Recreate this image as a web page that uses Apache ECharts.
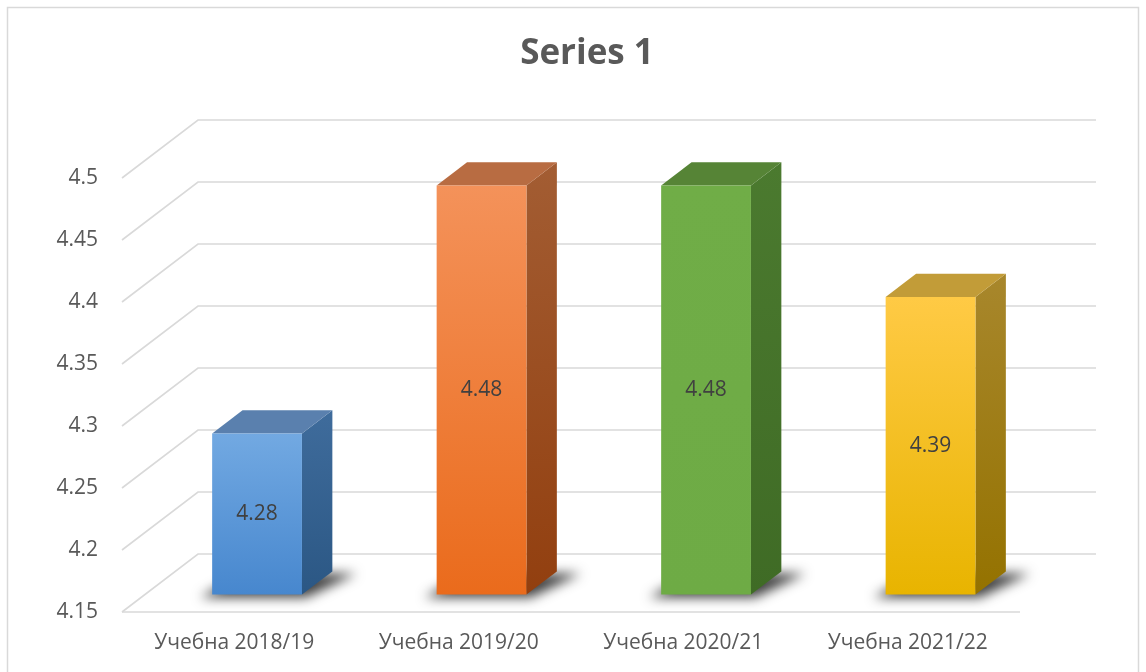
<!DOCTYPE html>
<html>
<head>
<meta charset="utf-8">
<script src="https://cdn.jsdelivr.net/npm/echarts@6/dist/echarts.min.js"></script>
<style>
  html, body { margin: 0; padding: 0; background: #fff; }
  #chart { width: 1146px; height: 672px; }
</style>
</head>
<body>
<div id="chart"></div>
<script>
const categories = ["Учебна 2018/19", "Учебна 2019/20", "Учебна 2020/21", "Учебна 2021/22"];
const values = [4.28, 4.48, 4.48, 4.39];
const yTicks = [4.15, 4.2, 4.25, 4.3, 4.35, 4.4, 4.45, 4.5];
const Y_MIN = 4.15;
const Y_MAX = 4.5;

// 3D projection: full floor depth in pixels, bar front/back depth fractions
const DX = 76, DY = -58;
const BAR_FRONT = 0.3, BAR_BACK = 0.7, BAR_WIDTH = 0.4;
const GRID_COLOR = "#D9D9D9";
const TEXT_COLOR = "#595959";

const BAR_STYLES = [
  { front: ["#72A9E2", "#4787CE"], side: ["#3F6C9C", "#2B5784"], top: "#5A80AE" },
  { front: ["#F4925A", "#EA6B1C"], side: ["#A35D33", "#923F0F"], top: "#B86C42" },
  { front: ["#70AD47", "#6EAB45"], side: ["#4B7A2F", "#3F6B25"], top: "#568436" },
  { front: ["#FFCA45", "#E8B400"], side: ["#A8872C", "#947200"], top: "#C29C38" },
];

const vgrad = (c) => ({
  type: "linear", x: 0, y: 0, x2: 0, y2: 1,
  colorStops: [{ offset: 0, color: c[0] }, { offset: 1, color: c[1] }],
});

const chart = echarts.init(document.getElementById("chart"));

const renderWall = (params, api) => {
  const cs = params.coordSys;
  const y = api.coord([0, api.value(0)])[1];
  const x0 = cs.x, x1 = cs.x + cs.width;
  const children = [
    {
      type: "polyline",
      shape: { points: [[x0, y], [x0 + DX, y + DY], [x1 + DX, y + DY]] },
      style: { stroke: GRID_COLOR, lineWidth: 1.6, fill: null },
    },
  ];
  if (params.dataIndex === 0) {
    children.push({
      type: "line",
      shape: { x1: x0, y1: y, x2: x1, y2: y },
      style: { stroke: GRID_COLOR, lineWidth: 1.6 },
    });
  }
  return { type: "group", children };
};

const renderBar = (params, api) => {
  const idx = api.value(0);
  const top = api.coord([idx, api.value(1)]);
  const base = api.coord([idx, Y_MIN]);
  const w = api.size([1, 0])[0] * BAR_WIDTH;
  const fx = BAR_FRONT * DX, fy = BAR_FRONT * DY;
  const bx = BAR_BACK * DX, by = BAR_BACK * DY;
  const x0 = top[0] - w / 2 + fx, x1 = top[0] + w / 2 + fx;
  const yt = top[1] + fy, yb = base[1] + fy;
  const ddx = bx - fx, ddy = by - fy;
  const s = BAR_STYLES[params.dataIndex % BAR_STYLES.length];
  const OFF = 2000;
  return {
    type: "group",
    children: [
      {
        // floor shadow, drawn off-canvas so only the blurred shadow shows
        type: "polygon",
        shape: {
          points: [
            [x0 - 12 - OFF, yb + 3], [x1 + 4 - OFF, yb + 3],
            [x1 + ddx + 24 - OFF, yb + ddy + 2], [x0 + ddx - OFF, yb + ddy + 2],
          ],
        },
        style: {
          fill: "#000", shadowColor: "rgba(0,0,0,0.75)", shadowBlur: 12,
          shadowOffsetX: OFF, shadowOffsetY: 0,
        },
      },
      {
        type: "polygon",
        shape: { points: [[x1, yt], [x1 + ddx, yt + ddy], [x1 + ddx, yb + ddy], [x1, yb]] },
        style: { fill: vgrad(s.side) },
      },
      {
        type: "polygon",
        shape: { points: [[x0, yt], [x1, yt], [x1 + ddx, yt + ddy], [x0 + ddx, yt + ddy]] },
        style: { fill: s.top },
      },
      {
        type: "rect",
        shape: { x: x0, y: yt, width: x1 - x0, height: yb - yt },
        style: { fill: vgrad(s.front) },
      },
      {
        type: "text",
        x: (x0 + x1) / 2,
        y: (yt + yb) / 2,
        style: {
          text: String(api.value(1)),
          align: "center", verticalAlign: "middle",
          fill: "#404040", fontSize: 21, fontFamily: "Open Sans",
        },
      },
    ],
  };
};

const option = {
  animation: false,
  title: {
    text: "Series 1",
    left: 582,
    top: 32,
    textAlign: "center",
    textStyle: { fontSize: 35, fontWeight: "bold", color: TEXT_COLOR, fontFamily: "Open Sans" },
  },
  graphic: [
    {
      type: "rect",
      shape: { x: 7.5, y: 7.5, width: 1131, height: 700 },
      style: { fill: null, stroke: GRID_COLOR, lineWidth: 1.5 },
      silent: true,
    },
  ],
  grid: { left: 122, right: 126, top: 178, bottom: 60, containLabel: false },
  xAxis: {
    type: "category",
    data: categories,
    axisLine: { show: false },
    axisTick: { show: false },
    axisLabel: { color: TEXT_COLOR, fontSize: 21, fontFamily: "Open Sans", margin: 21 },
  },
  yAxis: {
    type: "value",
    min: Y_MIN,
    max: Y_MAX,
    interval: 0.05,
    axisLine: { show: false },
    axisTick: { show: false },
    splitLine: { show: false },
    axisLabel: { color: TEXT_COLOR, fontSize: 21, fontFamily: "Open Sans", margin: 24 },
  },
  series: [
    {
      type: "custom",
      renderItem: renderWall,
      data: yTicks.map((v) => [v]),
      encode: { y: 0 },
      z: 1,
      silent: true,
    },
    {
      type: "custom",
      renderItem: renderBar,
      data: values.map((v, i) => [i, v]),
      encode: { x: 0, y: 1 },
      z: 2,
    },
  ],
};

chart.setOption(option);
</script>
</body>
</html>
